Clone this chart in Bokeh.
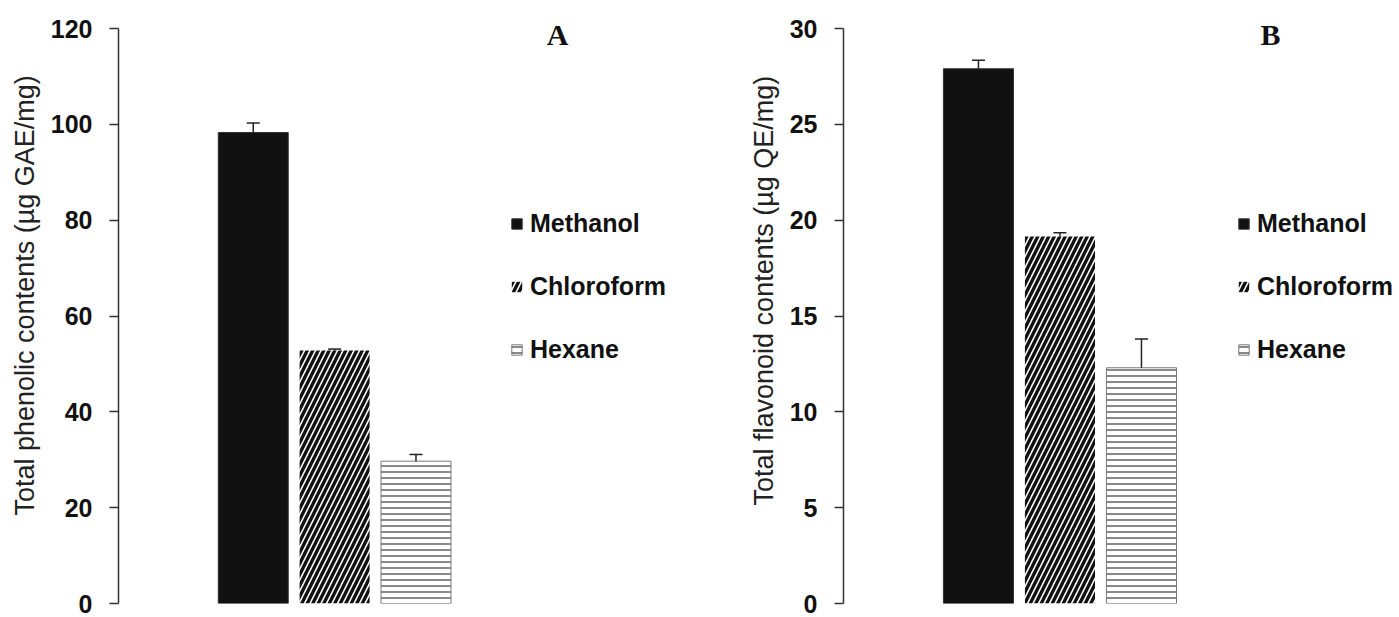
from bokeh.plotting import figure
from bokeh.layouts import row
from bokeh.models import (Range1d, FixedTicker, Whisker, TeeHead, ColumnDataSource,
                          Legend, LegendItem, Label, Title)
from bokeh.embed import file_html
from bokeh.resources import INLINE

# ---------------- data ----------------
solvents = ["Methanol", "Chloroform", "Hexane"]
phenolic = [98.3, 52.8, 29.7]
phenolic_err = [2.0, 0.3, 1.4]
flavonoid = [27.9, 19.15, 12.3]
flavonoid_err = [0.45, 0.2, 1.5]
phenolic_ticks = [0, 20, 40, 60, 80, 100, 120]
flavonoid_ticks = [0, 5, 10, 15, 20, 25, 30]
panel_letters = ["A", "B"]
y_titles = ["Total phenolic contents (\u00b5g GAE/mg)",
            "Total flavonoid contents (\u00b5g QE/mg)"]

# ---------------- styles ----------------
bar_styles = [
    dict(fill_color="#111111", line_color="#333333", hatch_pattern=None),
    dict(fill_color="white", line_color=None, hatch_pattern="right_diagonal_line",
         hatch_color="#111111", hatch_scale=11, hatch_weight=3.4),
    dict(fill_color="white", line_color="#777777", hatch_pattern="horizontal_line",
         hatch_color="#6a6a6a", hatch_scale=6, hatch_weight=1.6),
]

FONT = "Liberation Sans"
PX_PER_UNIT = 81.5
X0 = -1.656
BAR_W = 0.86
HEIGHT = 617
FRAME_TOP = 12      # frame starts here (room for the panel letter)
TICK_TOP = 28       # pixel row of the highest tick
BOTTOM = 14


def make_panel(values, errs, ticks, ytitle, letter, width, left, legend_x, letter_x,
               title_offset):
    frame_w = width - left
    frame_h = HEIGHT - BOTTOM - FRAME_TOP
    y_end = ticks[-1] * frame_h / (HEIGHT - BOTTOM - TICK_TOP)
    p = figure(width=width, height=HEIGHT, output_backend="svg", toolbar_location=None,
               x_range=Range1d(X0, X0 + frame_w / PX_PER_UNIT),
               y_range=Range1d(0, y_end),
               min_border_left=left, min_border_right=0, min_border_top=FRAME_TOP,
               min_border_bottom=BOTTOM)
    p.outline_line_color = None
    p.grid.visible = False
    p.xaxis.visible = False

    ax = p.yaxis[0]
    ax.ticker = FixedTicker(ticks=ticks)
    ax.bounds = (ticks[0], ticks[-1])
    ax.minor_tick_line_color = None
    ax.major_tick_in = 0
    ax.major_tick_out = 9
    ax.axis_line_color = "#333333"
    ax.axis_line_width = 1.5
    ax.major_tick_line_color = "#333333"
    ax.major_tick_line_width = 1.5
    ax.major_label_text_font = FONT
    ax.major_label_text_font_style = "bold"
    ax.major_label_text_font_size = "25px"
    ax.major_label_text_color = "#111111"
    ax.major_label_standoff = 17

    p.add_layout(Title(text=ytitle, align="left", offset=title_offset, standoff=15,
                       text_font=FONT, text_font_style="normal",
                       text_font_size="27px", text_color="#222222"), "left")

    items = []
    xs = list(range(len(solvents)))
    for i, (name, v) in enumerate(zip(solvents, values)):
        src = ColumnDataSource(dict(x=[xs[i]], top=[v]))
        st = bar_styles[i]
        kw = dict(fill_color=st["fill_color"], line_color=st["line_color"], line_width=1)
        if st["hatch_pattern"]:
            kw.update(hatch_pattern=st["hatch_pattern"], hatch_color=st["hatch_color"],
                      hatch_scale=st["hatch_scale"], hatch_weight=st["hatch_weight"])
        r = p.vbar(x="x", top="top", bottom=0, width=BAR_W, source=src, **kw)
        items.append(LegendItem(label=name, renderers=[r]))

    wsrc = ColumnDataSource(dict(base=xs, lower=values,
                                 upper=[v + e for v, e in zip(values, errs)]))
    p.add_layout(Whisker(source=wsrc, base="base", lower="lower", upper="upper",
                         lower_head=None,
                         upper_head=TeeHead(size=13, line_width=1.5, line_color="#222222"),
                         line_color="#222222", line_width=1.5, level="overlay"))

    legend = Legend(items=items, location=(legend_x, 239), orientation="vertical",
                    margin=0, padding=0, spacing=33, label_height=30,
                    glyph_width=13, glyph_height=13, label_standoff=7,
                    label_text_font=FONT, label_text_font_style="bold",
                    label_text_font_size="25px", label_text_color="#111111",
                    border_line_color=None, background_fill_alpha=0)
    p.add_layout(legend)

    p.add_layout(Label(x=letter_x, y=569, x_units="screen", y_units="screen",
                       text=letter, text_font="Liberation Serif", text_font_style="bold",
                       text_font_size="30px", text_align="center",
                       text_baseline="middle", text_color="#111111"))
    return p


pA = make_panel(phenolic, phenolic_err, phenolic_ticks, y_titles[0], panel_letters[0],
                734, 117, 392, 439, 88)
pB = make_panel(flavonoid, flavonoid_err, flavonoid_ticks, y_titles[1], panel_letters[1],
                665, 109, 394, 427, 98)

layout = row(pA, pB)
open("out.html", "w").write(file_html(layout, INLINE))
